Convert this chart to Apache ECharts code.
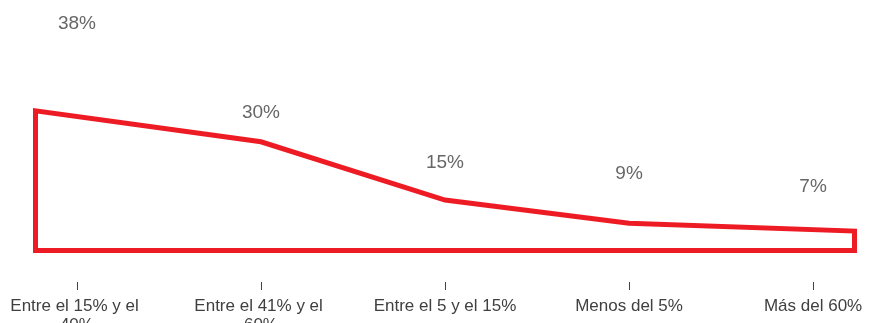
<!DOCTYPE html>
<html>
<head>
<meta charset="utf-8">
<script src="https://cdn.jsdelivr.net/npm/echarts@6/dist/echarts.min.js"></script>
<style>
html,body{margin:0;padding:0;background:#fff;}
#chart{width:869px;height:323px;}
</style>
</head>
<body>
<div id="chart"></div>
<script>
var categories = ['Entre el 15% y el 40%', 'Entre el 41% y el 60%', 'Entre el 5 y el 15%', 'Menos del 5%', 'Más del 60%'];
var values = [38, 30, 15, 9, 7];
var labelTexts = ['38%', '30%', '15%', '9%', '7%'];

var X_MIN = -0.225, X_MAX = categories.length - 1 + 0.225;
var Y_MIN = 2, Y_MAX = 40;
var RED = '#ED1C24';
var FONT = '"Liberation Sans", Arial, Helvetica, sans-serif';
var labelShift = [-87, -29, -37, -50, -44];

var chart = echarts.init(document.getElementById('chart'));
var idx = categories.map(function (c, i) { return i; });

chart.setOption({
  animation: false,
  grid: { left: 35.5, right: 14.5, top: 103, bottom: 72.5, containLabel: false, outerBoundsMode: 'none' },
  xAxis: {
    type: 'value', min: X_MIN, max: X_MAX,
    offset: 31.5,
    axisLine: { show: false },
    splitLine: { show: false },
    axisTick: { show: true, length: 8, customValues: idx, lineStyle: { color: '#444', width: 1 } },
    axisLabel: {
      customValues: idx,
      formatter: function (v) { return categories[Math.round(v)]; },
      margin: 15, fontSize: 17, lineHeight: 19, color: '#404040', fontFamily: FONT,
      width: 150, overflow: 'break', align: 'center'
    }
  },
  yAxis: { type: 'value', min: Y_MIN, max: Y_MAX, show: false },
  series: [
    {
      type: 'custom',
      data: [0],
      silent: true,
      renderItem: function (params, api) {
        var pts = [];
        pts.push(api.coord([X_MIN, Y_MIN]));
        values.forEach(function (v, i) {
          var x = i === 0 ? X_MIN : (i === values.length - 1 ? X_MAX : i);
          pts.push(api.coord([x, v]));
        });
        pts.push(api.coord([X_MAX, Y_MIN]));
        return {
          type: 'polygon',
          shape: { points: pts },
          style: { fill: 'none', stroke: RED, lineWidth: 5, lineJoin: 'miter' }
        };
      }
    },
    {
      type: 'scatter',
      symbolSize: 0,
      silent: true,
      data: values.map(function (v, i) {
        return {
          value: [i, v],
          label: {
            show: true, position: 'inside', offset: [0, labelShift[i]],
            formatter: labelTexts[i], fontSize: 19, color: '#404040', fontFamily: FONT
          }
        };
      })
    }
  ]
});
</script>
</body>
</html>
